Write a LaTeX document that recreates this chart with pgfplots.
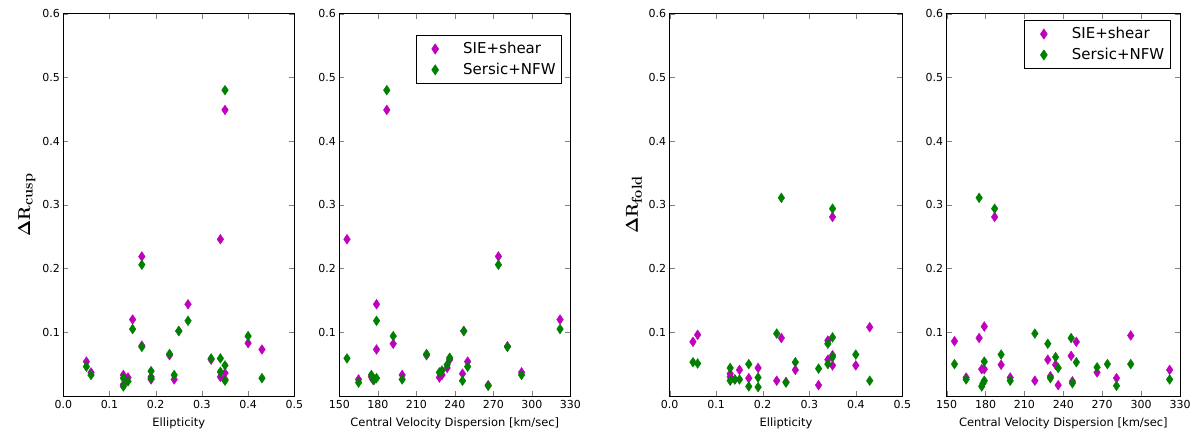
\documentclass[border=0pt]{standalone}
\usepackage[no-math]{fontspec}
\setmainfont{DejaVu Sans}
\usepackage{pgfplots}
\pgfplotsset{compat=1.18}

\definecolor{mpm}{rgb}{0.75,0,0.75}
\definecolor{mpg}{rgb}{0,0.5,0}

\pgfplotsset{
  myaxisbase/.style={
    scale only axis, width=231pt, height=382.3pt,
    ymin=0, ymax=0.6,
    ytick={0.1,0.2,0.3,0.4,0.5,0.6},
    yticklabels={0.1,0.2,0.3,0.4,0.5,0.6},
    tick align=inside, major tick length=5pt,
    axis line style={line width=0.8pt},
    tick label style={font=\fontsize{11}{13}\selectfont},
    xticklabel style={yshift=-1pt},
    xlabel style={font=\fontsize{11.5}{13}\selectfont, yshift=-2pt},
    ylabel style={font=\fontsize{19}{22}\selectfont},
    legend style={draw=black, line width=0.8pt, font=\fontsize{15}{17}\selectfont,
      anchor=north east, inner xsep=4pt, inner ysep=5pt, row sep=4pt,
      nodes={inner sep=2pt}},
    legend cell align=left,
    legend image code/.code={\path[draw=none,fill=none] (0pt,0pt) (41pt,0pt);
      \draw plot[only marks] coordinates {(15pt,0pt)};},
  },
  myellaxis/.style={myaxisbase, xmin=0, xmax=0.5, xtick={0,0.1,0.2,0.3,0.4,0.5},
    xticklabels={0.0,0.1,0.2,0.3,0.4,0.5}, xlabel={Ellipticity}},
  mysigaxis/.style={myaxisbase, xmin=150, xmax=330, xtick={150,180,210,240,270,300,330},
    xticklabels={150,180,210,240,270,300,330}, xlabel={Central Velocity Dispersion [km/sec]}},
  myplotm/.style={only marks, mark=diamond*, mark size=4.9pt, color=mpm,
    mark options={xscale=0.9}},
  myplotg/.style={only marks, mark=diamond*, mark size=4.9pt, color=mpg,
    mark options={xscale=0.9}},
}

\begin{document}
\begin{tikzpicture}
\path[use as bounding box] (0,0) rectangle (1197pt,434pt);

\begin{axis}[myellaxis, at={(63.3pt,38pt)}, anchor=south west,
  ylabel={$\mathbf{\Delta R_{cusp}}$}]
\addplot[myplotm] coordinates {
(0.05,0.054) (0.06,0.037) (0.13,0.033) (0.13,0.018) (0.14,0.029) (0.15,0.120)
(0.17,0.219) (0.17,0.079) (0.19,0.030) (0.19,0.026) (0.23,0.064) (0.24,0.026)
(0.25,0.102) (0.27,0.144) (0.32,0.057) (0.34,0.246) (0.34,0.030) (0.35,0.449)
(0.35,0.036) (0.35,0.026) (0.40,0.083) (0.43,0.073)};
\addplot[myplotg] coordinates {
(0.05,0.046) (0.06,0.033) (0.13,0.028) (0.13,0.015) (0.14,0.023) (0.15,0.105)
(0.17,0.206) (0.17,0.077) (0.19,0.039) (0.19,0.028) (0.23,0.066) (0.24,0.033)
(0.25,0.102) (0.27,0.118) (0.32,0.059) (0.34,0.059) (0.34,0.038) (0.35,0.480)
(0.35,0.048) (0.35,0.024) (0.40,0.094) (0.43,0.028)};
\end{axis}

\begin{axis}[mysigaxis, at={(339.3pt,38pt)}, anchor=south west,
  legend style={at={(0.964,0.944)}}]
\addplot[myplotm] coordinates {
(156,0.246) (165,0.026) (175,0.030) (176,0.026) (179,0.144) (179,0.073)
(187,0.449) (192,0.082) (199,0.033) (218,0.064) (228,0.029) (230,0.033)
(234,0.044) (236,0.057) (246,0.035) (247,0.102) (250,0.054) (266,0.017)
(274,0.219) (281,0.078) (292,0.037) (322,0.120)};
\addplot[myplotg] coordinates {
(156,0.059) (165,0.021) (175,0.033) (177,0.025) (179,0.028) (179,0.118)
(187,0.480) (192,0.094) (199,0.026) (218,0.066) (228,0.037) (230,0.040)
(234,0.049) (236,0.060) (246,0.024) (247,0.102) (250,0.046) (266,0.016)
(274,0.206) (281,0.077) (292,0.033) (322,0.105)};
\legend{SIE+shear,Sersic+NFW}
\end{axis}

\begin{axis}[myellaxis, at={(669.7pt,38pt)}, anchor=south west, width=232.6pt,
  ylabel={$\mathbf{\Delta R_{fold}}$}]
\addplot[myplotm] coordinates {
(0.05,0.085) (0.06,0.096) (0.13,0.035) (0.13,0.030) (0.14,0.026) (0.15,0.041)
(0.17,0.028) (0.19,0.044) (0.23,0.024) (0.24,0.091) (0.25,0.022) (0.27,0.041)
(0.32,0.017) (0.34,0.087) (0.34,0.057) (0.35,0.281) (0.35,0.064) (0.35,0.048)
(0.40,0.048) (0.43,0.108)};
\addplot[myplotg] coordinates {
(0.05,0.053) (0.06,0.051) (0.13,0.044) (0.13,0.024) (0.14,0.026) (0.15,0.026)
(0.17,0.050) (0.17,0.015) (0.19,0.029) (0.19,0.014) (0.23,0.098) (0.24,0.311)
(0.25,0.021) (0.27,0.053) (0.32,0.043) (0.34,0.082) (0.34,0.050) (0.35,0.294)
(0.35,0.092) (0.35,0.061) (0.40,0.065) (0.43,0.024)};
\end{axis}

\begin{axis}[mysigaxis, at={(946.7pt,38pt)}, anchor=south west, width=233.3pt,
  legend style={at={(0.960,0.983)}}]
\addplot[myplotm] coordinates {
(156,0.086) (165,0.029) (175,0.091) (177,0.042) (179,0.109) (179,0.042)
(187,0.281) (192,0.049) (199,0.029) (218,0.024) (228,0.057) (230,0.031)
(234,0.049) (236,0.017) (246,0.063) (247,0.023) (250,0.085) (266,0.037)
(281,0.028) (292,0.095) (322,0.041)};
\addplot[myplotg] coordinates {
(156,0.050) (165,0.026) (175,0.311) (177,0.015) (178,0.020) (179,0.024)
(179,0.054) (187,0.294) (192,0.065) (199,0.024) (218,0.098) (228,0.082)
(230,0.028) (234,0.061) (236,0.044) (246,0.091) (247,0.020) (250,0.053)
(266,0.045) (274,0.050) (281,0.016) (292,0.050) (322,0.026)};
\legend{SIE+shear,Sersic+NFW}
\end{axis}
\end{tikzpicture}
\end{document}
